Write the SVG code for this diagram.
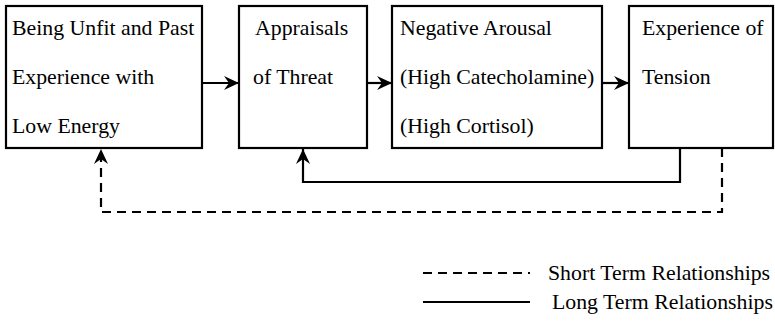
<svg xmlns="http://www.w3.org/2000/svg" width="775" height="321" viewBox="0 0 775 321">
<style>
.box{fill:#fff;stroke:#000;stroke-width:2.2}
.t{font-family:"Liberation Serif","Times New Roman",serif;font-size:21.8px;fill:#000}
.ln{fill:none;stroke:#000;stroke-width:2.2}
.dash{stroke-dasharray:9,6}
</style>
<defs>
<marker id="ah" viewBox="0 0 15 14" refX="15" refY="7" markerWidth="15" markerHeight="14" markerUnits="userSpaceOnUse" orient="auto">
<path d="M0,0 L15,7 L0,14 L5,7 z" fill="#000"/>
</marker>
</defs>
<rect width="775" height="321" fill="#fff"/>
<g id="n1">
<rect class="box" x="6" y="6" width="196" height="142"/>
<text class="t" x="12" y="35">Being Unfit and Past</text>
<text class="t" x="12" y="84">Experience with</text>
<text class="t" x="12" y="133">Low Energy</text>
</g>
<g id="n2">
<rect class="box" x="239" y="6" width="128" height="142"/>
<text class="t" x="255" y="35">Appraisals</text>
<text class="t" x="253" y="84">of Threat</text>
</g>
<g id="n3">
<rect class="box" x="392" y="6" width="210" height="142"/>
<text class="t" x="400" y="35">Negative Arousal</text>
<text class="t" x="400" y="84">(High Catecholamine)</text>
<text class="t" x="400" y="133">(High Cortisol)</text>
</g>
<g id="n4">
<rect class="box" x="629" y="6" width="144" height="142"/>
<text class="t" x="642" y="35">Experience of</text>
<text class="t" x="642" y="84">Tension</text>
</g>
<g id="connectors">
<line class="ln" x1="202" y1="83" x2="239" y2="83" marker-end="url(#ah)"/>
<line class="ln" x1="367" y1="83" x2="392" y2="83" marker-end="url(#ah)"/>
<line class="ln" x1="602" y1="83" x2="629" y2="83" marker-end="url(#ah)"/>
<polyline class="ln" points="680,148 680,182 303,182 303,149" marker-end="url(#ah)"/>
<polyline class="ln dash" points="722,148 722,212 101,212 101,149" marker-end="url(#ah)"/>
</g>
<g id="legend">
<line class="ln dash" x1="423" y1="273" x2="530" y2="273"/>
<text class="t" x="548" y="280">Short Term Relationships</text>
<line class="ln" x1="423" y1="302" x2="530" y2="302"/>
<text class="t" x="552" y="309">Long Term Relationships</text>
</g>
</svg>
